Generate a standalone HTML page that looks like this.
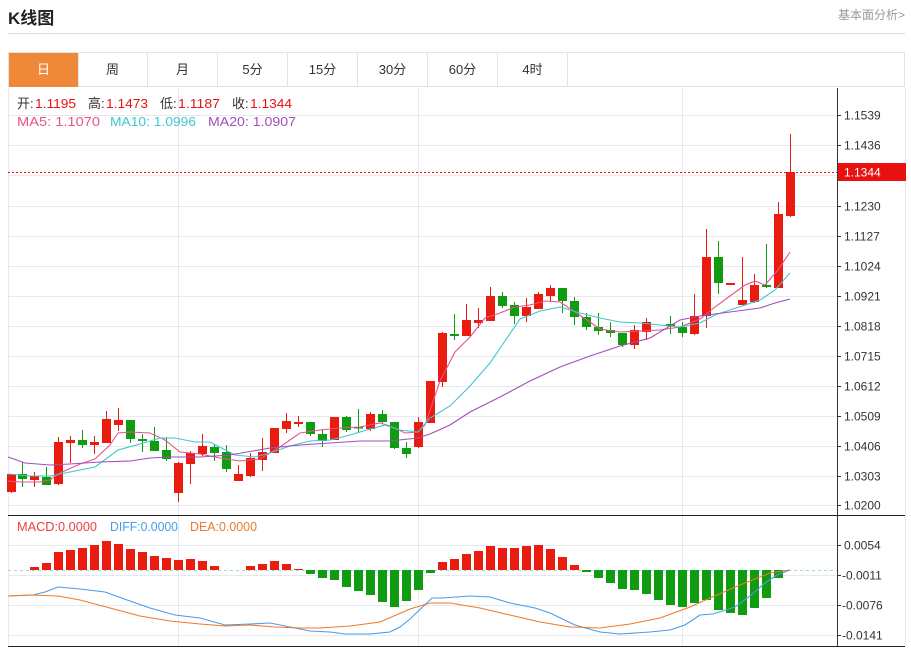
<!DOCTYPE html>
<html><head><meta charset="utf-8">
<style>
body{margin:0;background:#fff;width:911px;height:649px;overflow:hidden;font-family:"Liberation Sans","Noto Sans CJK SC",sans-serif;}
.hd{position:absolute;left:8px;top:4px;font-size:17px;font-weight:bold;color:#222;}
.more{position:absolute;right:6px;top:6px;font-size:12px;color:#999;}
.sep{position:absolute;left:8px;top:33px;width:897px;height:1px;background:#ddd;}
.tabs{position:absolute;left:8px;top:52px;width:897px;height:35px;border:1px solid #e3e3e3;box-sizing:border-box;}
.tab{position:absolute;top:0;height:34px;width:70px;border-right:1px solid #e3e3e3;box-sizing:border-box;text-align:center;line-height:34px;font-size:13px;color:#333;}
.tab.on{background:#f0883a;color:#fff;}
svg{position:absolute;left:0;top:0;}
</style></head><body>
<div class="hd">K线图</div>
<div class="more">基本面分析&gt;</div>
<div class="sep"></div>
<div class="tabs">
<div class="tab on" style="left:0">日</div>
<div class="tab" style="left:69px">周</div>
<div class="tab" style="left:139px">月</div>
<div class="tab" style="left:209px">5分</div>
<div class="tab" style="left:279px">15分</div>
<div class="tab" style="left:349px">30分</div>
<div class="tab" style="left:419px">60分</div>
<div class="tab" style="left:489px">4时</div>
</div>
<svg id="s" width="911" height="649" xmlns="http://www.w3.org/2000/svg">
<g stroke="#e6e9ee" stroke-width="1">
<line x1="8" y1="115.5" x2="837" y2="115.5"/><line x1="8" y1="145.5" x2="837" y2="145.5"/><line x1="8" y1="175.5" x2="837" y2="175.5"/><line x1="8" y1="206.5" x2="837" y2="206.5"/><line x1="8" y1="236.5" x2="837" y2="236.5"/><line x1="8" y1="266.5" x2="837" y2="266.5"/><line x1="8" y1="296.5" x2="837" y2="296.5"/><line x1="8" y1="326.5" x2="837" y2="326.5"/><line x1="8" y1="356.5" x2="837" y2="356.5"/><line x1="8" y1="386.5" x2="837" y2="386.5"/><line x1="8" y1="416.5" x2="837" y2="416.5"/><line x1="8" y1="446.5" x2="837" y2="446.5"/><line x1="8" y1="476.5" x2="837" y2="476.5"/><line x1="8" y1="505.5" x2="837" y2="505.5"/>
<line x1="8" y1="545.5" x2="837" y2="545.5"/><line x1="8" y1="575.5" x2="837" y2="575.5"/><line x1="8" y1="605.5" x2="837" y2="605.5"/><line x1="8" y1="635.5" x2="837" y2="635.5"/>
<line x1="178.5" y1="88" x2="178.5" y2="646"/><line x1="418.5" y1="88" x2="418.5" y2="646"/><line x1="682.5" y1="88" x2="682.5" y2="646"/>
<line x1="8.5" y1="88" x2="8.5" y2="646"/><line x1="905.5" y1="88" x2="905.5" y2="646"/>
</g>
<line x1="8" y1="570.5" x2="837" y2="570.5" stroke="#9fd8e0" stroke-dasharray="3,3"/>
<g id="bars"></g>
<g id="cand"></g>
<g fill="none" stroke-width="1.1">
<polyline stroke="#e9528a" points="8,481 20,482 40,482 50,480 60,473 80,464 95,459 110,445 118,433 130,432 150,433 165,440 180,452 200,454 220,458 240,461 260,459 280,447 300,433 320,430 340,428 360,427 380,423 390,426 405,433 418,432 425,425 440,381 455,352 470,337 485,318 500,313 515,307 530,305 545,301 560,302 575,312 590,322 600,329 620,332 640,331 660,330 680,327 700,319 715,307 730,296 745,285 755,281 765,285 778,270 790,252"/>
<polyline stroke="#3fc6d0" points="8,474 30,476 50,476 70,472 95,467 118,450 140,444 160,438 175,438 195,442 210,442 235,455 255,457 270,453 290,446 310,441 330,440 350,435 370,429 385,425 400,430 418,432 430,418 450,406 470,386 490,363 505,341 520,319 540,311 560,307 580,313 600,318 620,322 640,323 660,325 680,327 700,323 715,315 730,310 760,300 775,290 790,273"/>
<polyline stroke="#a24dbd" points="8,457 25,463 50,465 70,464 100,462 130,461 150,458 170,457 200,457 230,455 270,448 300,445 330,443 360,441 390,441 418,438 430,434 450,425 470,412 500,397 530,381 560,367 590,356 620,346 650,338 680,320 700,316 730,312 760,308 775,303 790,299"/>
<polyline stroke="#4a9be8" points="8,596 33,595 45,592 58,587 80,589 105,592 130,601 150,608 175,615 200,618 225,625 250,624 270,623 295,628 310,631 330,632 345,634 370,634 390,632 400,627 410,619 432,598 442,598 470,596 490,597 510,603 535,608 550,613 575,625 600,632 620,634 650,632 670,630 685,625 700,615 713,614 735,607 750,596 765,583 777,575 790,570"/>
<polyline stroke="#f07a28" points="8,596 30,595 58,596 80,600 110,608 140,616 170,621 200,624 225,626 250,625 275,627 300,628 320,628 350,626 380,622 410,609 430,603 450,603 480,608 510,615 540,622 570,627 600,628 630,624 660,618 690,607 710,598 740,585 770,573 790,570"/>
</g>
<line x1="8" y1="172.5" x2="837" y2="172.5" stroke="#e8110f" stroke-dasharray="2,2"/>
<line x1="837.5" y1="88" x2="837.5" y2="646" stroke="#333"/>
<line x1="8" y1="515.5" x2="905" y2="515.5" stroke="#222"/>
<line x1="8" y1="646.5" x2="905" y2="646.5" stroke="#222"/>
<g stroke="#333"><line x1="837" y1="115.5" x2="841" y2="115.5"/><line x1="837" y1="145.5" x2="841" y2="145.5"/><line x1="837" y1="206.5" x2="841" y2="206.5"/><line x1="837" y1="236.5" x2="841" y2="236.5"/><line x1="837" y1="266.5" x2="841" y2="266.5"/><line x1="837" y1="296.5" x2="841" y2="296.5"/><line x1="837" y1="326.5" x2="841" y2="326.5"/><line x1="837" y1="356.5" x2="841" y2="356.5"/><line x1="837" y1="386.5" x2="841" y2="386.5"/><line x1="837" y1="416.5" x2="841" y2="416.5"/><line x1="837" y1="446.5" x2="841" y2="446.5"/><line x1="837" y1="476.5" x2="841" y2="476.5"/><line x1="837" y1="505.5" x2="841" y2="505.5"/><line x1="837" y1="545.5" x2="841" y2="545.5"/><line x1="837" y1="575.5" x2="841" y2="575.5"/><line x1="837" y1="605.5" x2="841" y2="605.5"/><line x1="837" y1="635.5" x2="841" y2="635.5"/></g>
<rect x="838" y="163" width="68" height="18" fill="#e8110f"/>
<g font-family="Liberation Sans, sans-serif" font-size="12" fill="#333">
<text x="844" y="119.5">1.1539</text><text x="844" y="149.5">1.1436</text><text x="844" y="176.5" fill="#fff">1.1344</text><text x="844" y="210.5">1.1230</text><text x="844" y="240.5">1.1127</text><text x="844" y="270.5">1.1024</text><text x="844" y="300.5">1.0921</text><text x="844" y="330.5">1.0818</text><text x="844" y="360.5">1.0715</text><text x="844" y="390.5">1.0612</text><text x="844" y="420.5">1.0509</text><text x="844" y="450.5">1.0406</text><text x="844" y="480.5">1.0303</text><text x="844" y="509.5">1.0200</text>
<text x="844" y="549.5">0.0054</text><text x="842" y="579.5">-0.0011</text><text x="842" y="609.5">-0.0076</text><text x="842" y="639.5">-0.0141</text>
</g>
<g font-family="Liberation Sans, Noto Sans CJK SC, sans-serif" font-size="13" fill="#333">
<text x="17" y="108">开:</text><text x="35" y="108" fill="#e8110f" textLength="41" lengthAdjust="spacingAndGlyphs">1.1195</text>
<text x="88" y="108">高:</text><text x="106" y="108" fill="#e8110f" textLength="42" lengthAdjust="spacingAndGlyphs">1.1473</text>
<text x="160" y="108">低:</text><text x="178" y="108" fill="#e8110f" textLength="42" lengthAdjust="spacingAndGlyphs">1.1187</text>
<text x="232" y="108">收:</text><text x="250" y="108" fill="#e8110f" textLength="42" lengthAdjust="spacingAndGlyphs">1.1344</text>
<text x="17" y="126" fill="#e9528a" textLength="83" lengthAdjust="spacingAndGlyphs">MA5: 1.1070</text>
<text x="110" y="126" fill="#3fc6d0" textLength="86" lengthAdjust="spacingAndGlyphs">MA10: 1.0996</text>
<text x="208" y="126" fill="#a24dbd" textLength="88" lengthAdjust="spacingAndGlyphs">MA20: 1.0907</text>
<text x="17" y="531" fill="#e8413f" textLength="80" lengthAdjust="spacingAndGlyphs">MACD:0.0000</text>
<text x="110" y="531" fill="#4a9be8" textLength="68" lengthAdjust="spacingAndGlyphs">DIFF:0.0000</text>
<text x="190" y="531" fill="#f07a28" textLength="67" lengthAdjust="spacingAndGlyphs">DEA:0.0000</text>
</g>
</svg>
<script>
var R="#ea1b0f",G="#109c10";
var c=[[11,1,474,492,474,493],[22,0,474,479,462,487],[34,1,476,480,472,487],[46,0,477,485,467,485],[58,1,442,484,437,485],[70,1,440,443,436,463],[82,0,440,445,430,448],[94,1,442,445,436,454],[106,1,419,443,411,443],[118,1,420,425,408,431],[130,0,420,439,420,443],[142,0,439,441,434,452],[154,0,441,451,427,451],[166,0,450,459,437,461],[178,1,463,493,462,502],[190,1,453,464,451,484],[202,1,446,454,434,456],[214,0,447,453,445,461],[226,0,452,469,445,472],[238,1,474,481,465,481],[250,1,458,476,453,477],[262,1,452,460,438,471],[274,1,428,453,428,453],[286,1,421,429,413,433],[298,1,422,424,416,427],[310,0,422,434,422,436],[322,0,434,441,429,447],[334,1,417,440,417,440],[346,0,417,430,416,432],[358,0,427,428,409,432],[370,1,414,429,412,431],[382,0,414,422,410,423],[394,0,422,448,422,449],[406,0,448,454,442,458],[418,1,422,447,417,448],[430,1,381,423,381,423],[442,1,333,382,332,387],[454,0,334,336,314,340],[466,1,320,336,304,336],[478,1,320,323,308,328],[490,1,296,321,287,321],[502,0,296,306,292,308],[514,0,305,316,302,324],[526,1,307,316,298,322],[538,1,294,309,292,309],[550,1,288,296,285,302],[562,0,288,301,288,313],[574,0,301,317,297,325],[586,0,317,327,313,330],[598,0,327,331,313,335],[610,0,330,333,322,337],[622,0,333,345,333,347],[634,1,330,345,325,349],[646,1,322,332,318,340],[670,0,324,326,316,334],[682,0,327,333,322,337],[694,1,316,334,294,335],[706,1,257,316,229,328],[718,0,257,283,241,294],[730,1,283,285,283,285],[742,1,300,305,257,305],[754,1,285,302,274,303],[766,0,285,287,244,288],[778,1,214,288,202,288],[790,1,172,216,134,217]];
var h="";c.forEach(function(d){var col=d[1]?R:G;h+='<line x1="'+(d[0]+0.5)+'" y1="'+d[4]+'" x2="'+(d[0]+0.5)+'" y2="'+d[5]+'" stroke="'+col+'"/>';h+='<rect x="'+(d[0]-4)+'" y="'+d[2]+'" width="9" height="'+Math.max(1.5,d[3]-d[2])+'" fill="'+col+'"/>';});
document.getElementById("cand").innerHTML=h;
var b=[[34,567],[46,563],[58,552],[70,550],[82,548],[94,545],[106,541],[118,544],[130,549],[142,552],[154,556],[166,558],[178,560],[190,559],[202,561],[214,566],[250,566],[262,564],[274,561],[286,564],[298,569],[310,574],[322,578],[334,580],[346,587],[358,591],[370,595],[382,602],[394,607],[406,601],[418,590],[430,573],[442,562],[454,559],[466,554],[478,551],[490,546],[502,548],[514,548],[526,546],[538,545],[550,549],[562,557],[574,565],[586,572],[598,578],[610,583],[622,589],[634,590],[646,594],[658,600],[670,605],[682,607],[694,603],[706,600],[718,610],[730,613],[742,615],[754,608],[766,598],[778,578]];
var z=570,s="";b.forEach(function(d){var y=d[1];if(y<z)s+='<rect x="'+(d[0]-4)+'" y="'+y+'" width="9" height="'+(z-y)+'" fill="'+R+'"/>';else s+='<rect x="'+(d[0]-4)+'" y="'+z+'" width="9" height="'+(y-z)+'" fill="'+G+'"/>';});
document.getElementById("bars").innerHTML=s;
</script>
</body></html>
